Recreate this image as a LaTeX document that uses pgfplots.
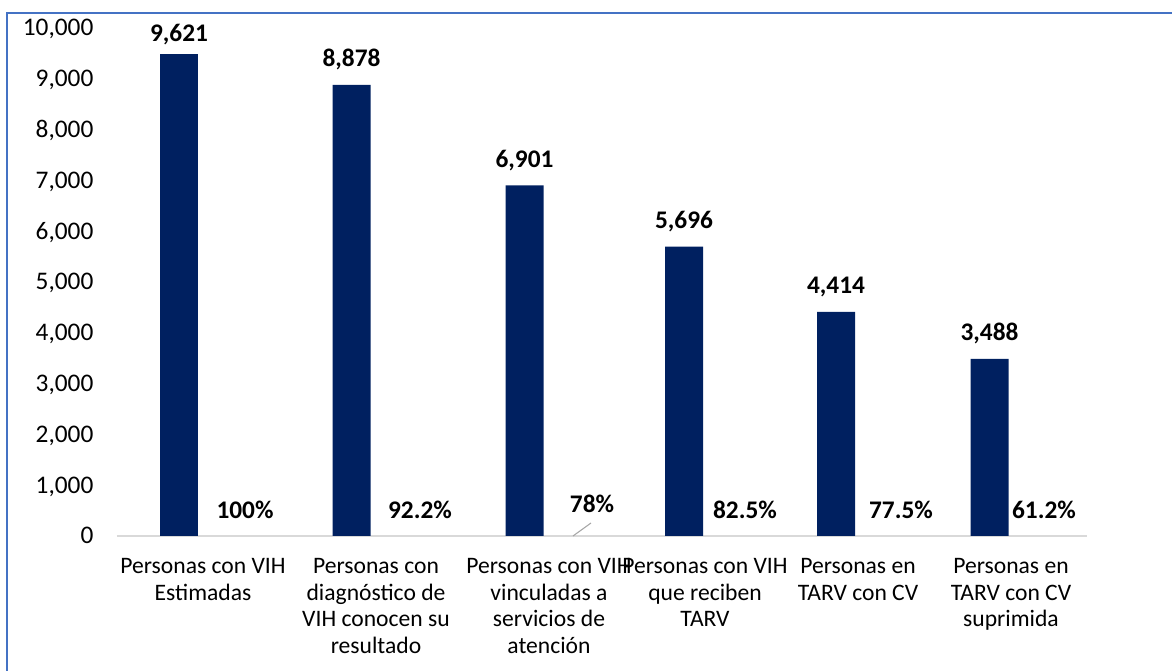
\documentclass[border=0pt]{standalone}
\usepackage{pgfplots}
\pgfplotsset{compat=1.18}
\usepackage{fontspec}
\setmainfont{Carlito}
\definecolor{barblue}{HTML}{002060}
\definecolor{frameblue}{HTML}{4472C4}
\definecolor{axisgray}{HTML}{D9D9D9}
\begin{document}
\begin{tikzpicture}
\path[use as bounding box] (0,0) rectangle (879pt,503.25pt);
\draw[frameblue, line width=1.1pt] (5.25pt,-2pt) -- (5.25pt,493.5pt) -- (885pt,493.5pt);
\begin{axis}[
  at={(87.75pt,101.25pt)}, anchor=south west,
  scale only axis, width=727.5pt, height=381pt,
  xmin=117, xmax=1087, ymin=0, ymax=10000,
  axis lines*=left,
  x axis line style={draw=axisgray, line width=1.2pt},
  y axis line style={draw=none},
  major tick length=0pt,
  tick style={draw=none},
  ytick={0,1000,...,10000},
  scaled y ticks=false,
  yticklabel style={font=\fontsize{19}{22}\selectfont, anchor=base east, inner sep=0pt, xshift=-17.5pt, yshift=-6pt,
    /pgf/number format/.cd, 1000 sep={,}, assume math mode=true},
  xtick={203,376,549,705,858,1011},
  xticklabels={{Personas con VIH\\Estimadas},
               {Personas con\\diagnóstico de\\VIH conocen su\\resultado},
               {Personas con VIH\\vinculadas a\\servicios de\\atención},
               {Personas con VIH\\que reciben\\TARV},
               {Personas en\\TARV con CV},
               {Personas en\\TARV con CV\\suprimida}},
  xticklabel style={font=\fontsize{17.7}{20}\selectfont, align=center, anchor=north, inner sep=0pt, yshift=-16.5pt},
  clip=false,
]
\addplot[ybar, bar width=28.5pt, bar shift=0pt, fill=barblue, draw=none,
  nodes near coords, point meta=explicit symbolic,
  every node near coord/.append style={font=\bfseries\fontsize{19}{22}\selectfont, anchor=base, inner sep=0pt, yshift=9.5pt}]
  coordinates {(179,9490)[9{,}621]};
\addplot[ybar, bar width=28.5pt, bar shift=0pt, fill=barblue, draw=none,
  nodes near coords, point meta=explicit symbolic,
  every node near coord/.append style={font=\bfseries\fontsize{19}{22}\selectfont, anchor=base, inner sep=0pt, yshift=13.5pt}]
  coordinates {(351.5,8878)[8{,}878] (524.5,6901)[6{,}901]
               (684,5696)[5{,}696] (836,4414)[4{,}414] (989.5,3488)[3{,}488]};
\addplot[draw=none, mark=none,
  nodes near coords, point meta=explicit symbolic,
  every node near coord/.append style={font=\bfseries\fontsize{19}{22}\selectfont, anchor=base, inner sep=0pt}]
  coordinates {(245,354)[100\%] (420,354)[92.2\%] (592,453)[78\%]
               (745,354)[82.5\%] (901,354)[77.5\%] (1044,354)[61.2\%]};
\addplot[draw=gray!70, line width=0.8pt, mark=none] coordinates {(573,0) (591,256)};
\end{axis}
\end{tikzpicture}
\end{document}
